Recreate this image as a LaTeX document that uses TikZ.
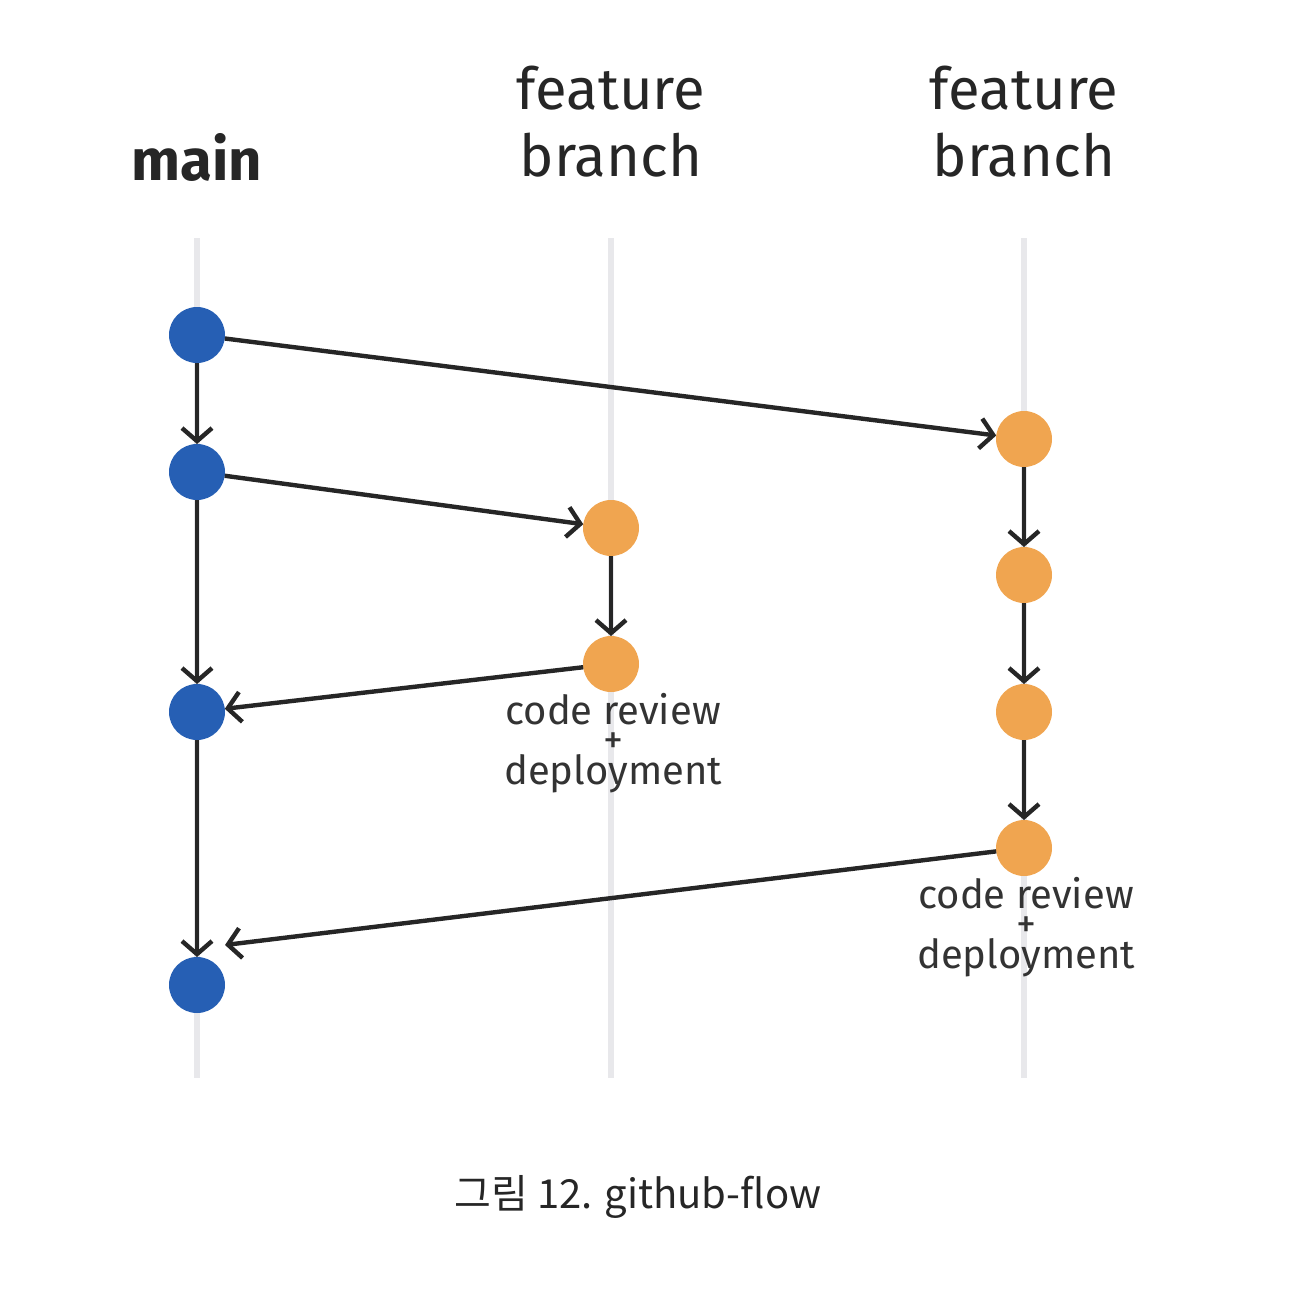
\documentclass[tikz,border=0pt]{standalone}
\usepackage{fontspec}
\setmainfont{Fira Sans}
\newfontfamily\cjkfont{Noto Sans CJK KR}
\usetikzlibrary{arrows.meta}
\definecolor{mainblue}{RGB}{38,95,180}
\definecolor{featorange}{RGB}{240,165,80}
\definecolor{lanegray}{RGB}{232,232,235}
\tikzset{
  commit/.style={circle,inner sep=0pt,outer sep=0pt,minimum size=56pt},
  maincommit/.style={commit,fill=mainblue},
  featcommit/.style={commit,fill=featorange},
  lane/.style={draw=lanegray,line width=6pt},
  flow/.style={draw=black!85,line width=4.4pt,-{Straight Barb[length=13pt,width=30pt,line width=4.4pt]}},
  header/.style={font=\fontsize{58}{67}\selectfont,align=center,text=black!85},
  note/.style={font=\fontsize{40}{29}\selectfont,align=center,text=black!80,inner sep=0pt}
}
\begin{document}
\begin{tikzpicture}[x=1pt,y=-1pt]
\useasboundingbox (0,0) rectangle (1304,1292);
% lanes
\coordinate (l1t) at (197,238); \coordinate (l1b) at (197,1078);
\coordinate (l2t) at (611,238); \coordinate (l2b) at (611,1078);
\coordinate (l3t) at (1024,238); \coordinate (l3b) at (1024,1078);
\draw[lane] (l1t) -- (l1b);
\draw[lane] (l2t) -- (l2b);
\draw[lane] (l3t) -- (l3b);
% headers
\node[header,font=\fontsize{58}{67}\selectfont\bfseries] (hmain) at (197,157) {main};
\node[header] (hf1) at (611,122) {feature\\branch};
\node[header] (hf2) at (1024,122) {feature\\branch};
% commits
\node[maincommit] (m1) at (197,335) {};
\node[maincommit] (m2) at (197,472) {};
\node[maincommit] (m3) at (197,712) {};
\node[maincommit] (m4) at (197,985) {};
\node[featcommit] (a1) at (611,528) {};
\node[featcommit] (a2) at (611,664) {};
\node[featcommit] (b1) at (1024,439) {};
\node[featcommit] (b2) at (1024,575) {};
\node[featcommit] (b3) at (1024,712) {};
\node[featcommit] (b4) at (1024,848) {};
\coordinate (m4in) at (225,945);
% labels
\node[note] (la) at (613,743) {code review\\+\\deployment};
\node[note] (lb) at (1026,927) {code review\\+\\deployment};
% connectors
\draw[flow] (m1) -- (m2);
\draw[flow] (m2) -- (m3);
\draw[flow] (m3) -- (m4);
\draw[flow] (m1) -- (b1);
\draw[flow] (m2) -- (a1);
\draw[flow] (a1) -- (a2);
\draw[flow] (a2) -- (m3);
\draw[flow] (b1) -- (b2);
\draw[flow] (b2) -- (b3);
\draw[flow] (b3) -- (b4);
\draw[flow] (b4) -- (m4in);
% caption
\node[font=\cjkfont\fontsize{40}{48}\selectfont,text=black!85] (cap) at (638,1197) {그림 12. github-flow};
\end{tikzpicture}
\end{document}
